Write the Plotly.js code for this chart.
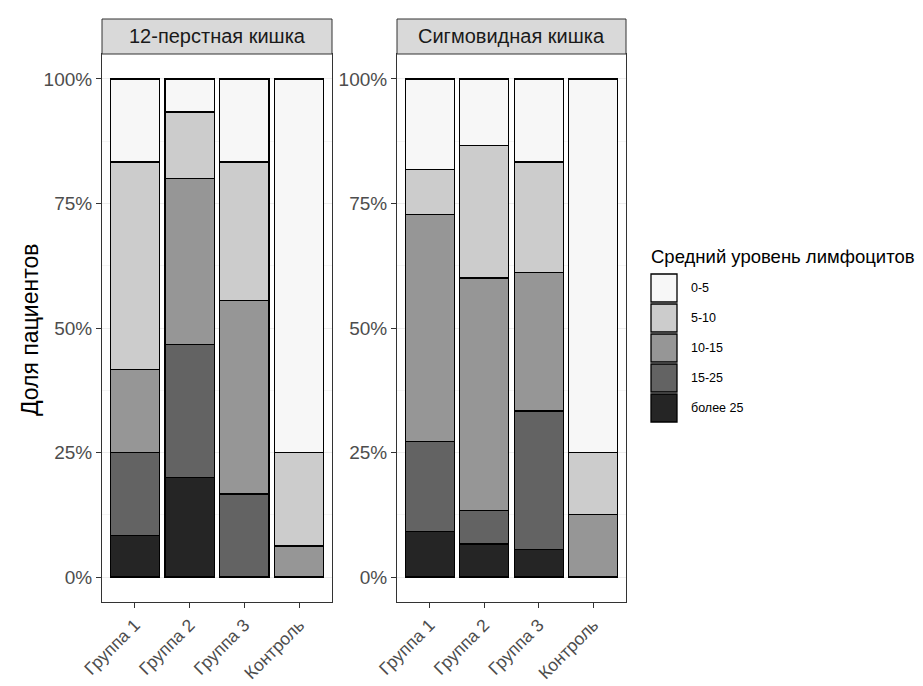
<!DOCTYPE html>
<html>
<head>
<meta charset="utf-8">
<script src="https://cdn.plot.ly/plotly-3.0.1.min.js"></script>
<style>html,body{margin:0;padding:0;background:#fff;}#chart{width:923px;height:686px;}</style>
</head>
<body>
<div id="chart"></div>
<script>
// Data
const groups = ["Группа 1", "Группа 2", "Группа 3", "Контроль"];
const facets = ["12-перстная кишка", "Сигмовидная кишка"];
const levels = ["0-5", "5-10", "10-15", "15-25", "более 25"];
const levelColors = ["#F7F7F7", "#CCCCCC", "#969696", "#636363", "#252525"];

// Proportions per level, facet 1 (12-перстная кишка)
const duo_0_5    = [0.1667, 0.0667, 0.1667, 0.7500];
const duo_5_10   = [0.4167, 0.1333, 0.2778, 0.1875];
const duo_10_15  = [0.1667, 0.3333, 0.3889, 0.0625];
const duo_15_25  = [0.1667, 0.2667, 0.1667, 0];
const duo_gt25   = [0.0833, 0.2000, 0, 0];

// Proportions per level, facet 2 (Сигмовидная кишка)
const sig_0_5    = [0.1818, 0.1333, 0.1667, 0.7500];
const sig_5_10   = [0.0909, 0.2667, 0.2222, 0.1250];
const sig_10_15  = [0.4545, 0.4667, 0.2778, 0.1250];
const sig_15_25  = [0.1818, 0.0667, 0.2778, 0];
const sig_gt25   = [0.0909, 0.0667, 0.0556, 0];

const facetData = [
  [duo_0_5, duo_5_10, duo_10_15, duo_15_25, duo_gt25],
  [sig_0_5, sig_5_10, sig_10_15, sig_15_25, sig_gt25]
];

const traces = [];
facetData.forEach((fd, fi) => {
  for (let li = levels.length - 1; li >= 0; li--) {
    traces.push({
      type: 'bar',
      x: groups,
      y: fd[li],
      name: levels[li],
      marker: {color: levelColors[li], line: {color: '#000000', width: 1.3}},
      xaxis: fi === 0 ? 'x' : 'x2',
      yaxis: fi === 0 ? 'y' : 'y2',
      showlegend: false,
      hoverinfo: 'skip'
    });
  }
});

const W = 923, H = 686;
const mL = 102, mR = 297, mT = 54, mB = 84;
const pw = W - mL - mR, ph = H - mT - mB;
const px = x => (x - mL) / pw;
const py = y => (H - mB - y) / ph;

const d1 = [0, px(332)];
const d2 = [px(397), 1];

const FF = 'Liberation Sans, Arial, sans-serif';
const tickFont = {family: FF, size: 19, color: '#4D4D4D'};
const xTickFont = {family: FF, size: 17.5, color: '#4D4D4D'};

function xAxis(domain, anchor) {
  return {
    domain: domain, anchor: anchor, type: 'category',
    range: [-0.6, 3.6], fixedrange: true,
    showline: true, mirror: true, linecolor: '#333333', linewidth: 1,
    ticks: 'outside', ticklen: 5, tickcolor: '#333333', tickwidth: 1,
    tickangle: -45, tickfont: xTickFont, showgrid: false, zeroline: false
  };
}
function yAxis(anchor) {
  return {
    anchor: anchor, domain: [0, 1],
    range: [-0.05, 1.05], fixedrange: true,
    tickvals: [0, 0.25, 0.5, 0.75, 1], ticktext: ["0%", "25%", "50%", "75%", "100%"],
    showline: true, mirror: true, linecolor: '#333333', linewidth: 1,
    ticks: 'outside', ticklen: 5, tickcolor: '#333333', tickwidth: 1,
    tickfont: tickFont, showgrid: true, gridcolor: '#EDEDED', gridwidth: 1,
    minor: {tickvals: [0.125, 0.375, 0.625, 0.875], showgrid: true, gridcolor: '#F5F5F5', gridwidth: 1},
    zeroline: false
  };
}

const shapes = [];
const annotations = [];

// facet strips
[[102, 332], [397, 626]].forEach((r, i) => {
  shapes.push({type: 'rect', xref: 'paper', yref: 'paper',
    x0: px(r[0]), x1: px(r[1]), y0: py(54), y1: py(19),
    fillcolor: '#D9D9D9', line: {color: '#333333', width: 1}, layer: 'above'});
  annotations.push({xref: 'paper', yref: 'paper', x: px((r[0] + r[1]) / 2), y: py(36.5),
    text: facets[i], showarrow: false, xanchor: 'center', yanchor: 'middle',
    font: {family: FF, size: 20, color: '#1A1A1A'}});
});

// y title
annotations.push({xref: 'paper', yref: 'paper', x: px(30), y: py(330), text: 'Доля пациентов',
  showarrow: false, textangle: -90, xanchor: 'center', yanchor: 'middle',
  font: {family: FF, size: 23, color: '#000000'}});

// legend
annotations.push({xref: 'paper', yref: 'paper', x: px(649), y: py(256), text: 'Средний уровень лимфоцитов',
  showarrow: false, xanchor: 'left', yanchor: 'middle',
  font: {family: FF, size: 18.5, color: '#000000'}});
levels.forEach((lv, i) => {
  const top = 273 + i * 30;
  shapes.push({type: 'rect', xref: 'paper', yref: 'paper',
    x0: px(651), x1: px(677), y0: py(top + 1), y1: py(top + 29),
    fillcolor: levelColors[i], line: {color: '#000000', width: 1.3}});
  annotations.push({xref: 'paper', yref: 'paper', x: px(689), y: py(top + 15), text: lv,
    showarrow: false, xanchor: 'left', yanchor: 'middle',
    font: {family: FF, size: 12.5, color: '#000000'}});
});

const layout = {
  width: W, height: H,
  margin: {l: mL, r: mR, t: mT, b: mB, pad: 0},
  paper_bgcolor: '#FFFFFF', plot_bgcolor: '#FFFFFF',
  barmode: 'stack', bargap: 0.1,
  showlegend: false,
  xaxis: xAxis(d1, 'y'),
  yaxis: yAxis('x'),
  xaxis2: xAxis(d2, 'y2'),
  yaxis2: yAxis('x2'),
  shapes: shapes,
  annotations: annotations,
  font: {family: FF}
};

Plotly.newPlot('chart', traces, layout, {displayModeBar: false, staticPlot: true});
</script>
</body>
</html>
